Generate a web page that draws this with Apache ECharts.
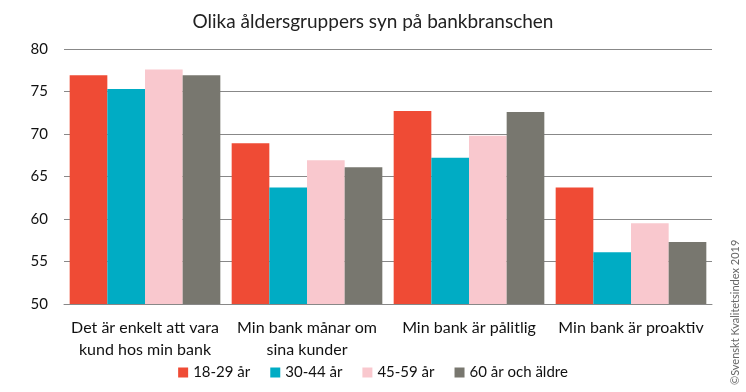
<!DOCTYPE html>
<html>
<head>
<meta charset="utf-8">
<script src="https://cdn.jsdelivr.net/npm/echarts@6/dist/echarts.min.js"></script>
<style>html,body{margin:0;padding:0;background:#fff;}#c{width:746px;height:392px;}</style>
</head>
<body>
<div id="c"></div>
<script>
var categories = ["Det är enkelt att vara\nkund hos min bank", "Min bank månar om\nsina kunder", "Min bank är pålitlig", "Min bank är proaktiv"];
var seriesNames = ["18-29 år", "30-44 år", "45-59 år", "60 år och äldre"];
var s1829 = [76.9, 68.9, 72.7, 63.7];
var s3044 = [75.3, 63.7, 67.2, 56.1];
var s4559 = [77.6, 66.9, 69.8, 59.5];
var s60 = [76.9, 66.1, 72.6, 57.3];
var yTicks = [50, 55, 60, 65, 70, 75, 80];
var colors = ["#EF4B35", "#00ACC4", "#F9C8CE", "#78776F"];
var font = "Lato, 'Liberation Sans', sans-serif";

var chart = echarts.init(document.getElementById('c'));
var data = [s1829, s3044, s4559, s60];
chart.setOption({
  animation: false,
  title: {
    text: "Olika åldersgruppers syn på bankbranschen",
    left: 'center', top: 7,
    textStyle: {fontFamily: font, fontSize: 19, fontWeight: 'normal', color: '#222'}
  },
  legend: {
    bottom: 7, left: 'center',
    itemWidth: 10, itemHeight: 10, itemGap: 20,
    icon: 'rect',
    textStyle: {fontFamily: font, fontSize: 15, color: '#111'},
    data: seriesNames
  },
  grid: {left: 64, right: 34, top: 49, bottom: 88},
  xAxis: {
    type: 'category', data: categories,
    axisLine: {lineStyle: {color: '#888'}},
    axisTick: {show: false},
    axisLabel: {fontFamily: font, fontSize: 16, color: '#111', lineHeight: 22, margin: 13, interval: 0}
  },
  yAxis: {
    type: 'value', min: yTicks[0], max: yTicks[yTicks.length - 1], interval: 5,
    axisLine: {show: false}, axisTick: {show: false},
    axisLabel: {fontFamily: font, fontSize: 15, color: '#111', margin: 16},
    splitLine: {lineStyle: {color: '#888', width: 1}}
  },
  series: seriesNames.map(function (n, i) {
    return {
      name: n, type: 'bar', data: data[i],
      itemStyle: {color: colors[i]},
      barGap: '0%', barCategoryGap: '7%'
    };
  }),
  graphic: [{
    type: 'text', x: 730, y: 385, rotation: Math.PI / 2,
    style: {text: "©Svenskt Kvalitetsindex 2019", fontFamily: font, fontSize: 11, fill: '#666', textVerticalAlign: 'top'}
  }]
});
</script>
</body>
</html>
